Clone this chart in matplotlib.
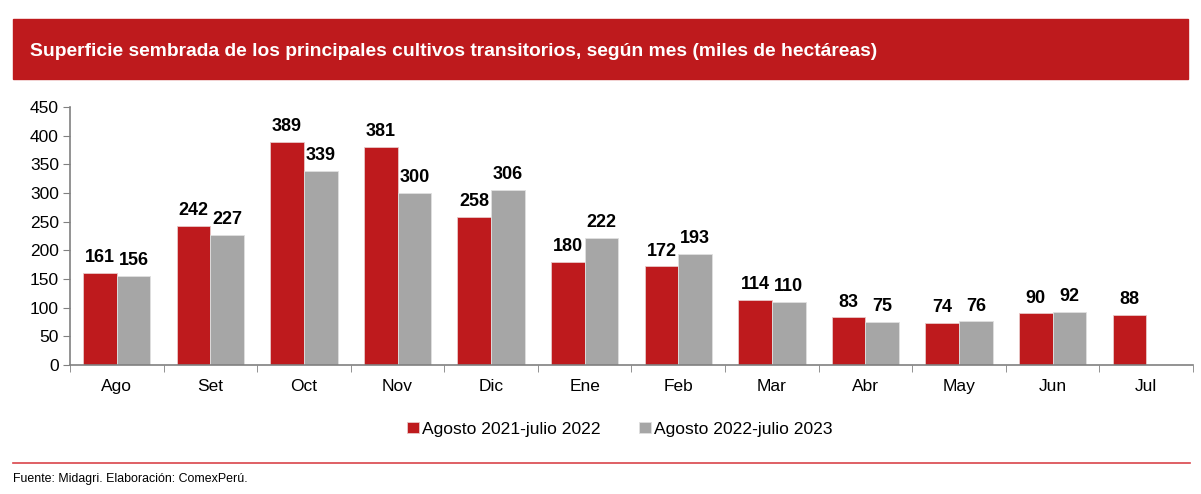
#!/usr/bin/env python3
"""
Superficie sembrada de los principales cultivos transitorios, por mes.
Barras agrupadas: campaña 2021-2022 vs 2022-2023. Salida: out.png
"""
import matplotlib.pyplot as plt
import numpy as np
from matplotlib.patches import Rectangle

meses = ["Ago", "Set", "Oct", "Nov", "Dic", "Ene", "Feb", "Mar", "Abr", "May", "Jun", "Jul"]
campana_2122 = [161, 242, 389, 381, 258, 180, 172, 114, 83, 74, 90, 88]
campana_2223 = [156, 227, 339, 300, 306, 222, 193, 110, 75, 76, 92, None]
series_labels = ["Agosto 2021-julio 2022", "Agosto 2022-julio 2023"]

ROJO = "#BE1A1D"
GRIS = "#A6A6A6"

plt.rcParams["font.family"] = ["Liberation Sans", "DejaVu Sans"]


def main():
    fig = plt.figure(figsize=(12.01, 4.94), dpi=100)
    W, H = 1201, 494

    # barra del titulo
    fig.patches.append(Rectangle((13 / W, 1 - 79 / H), (1188 - 13) / W, 60 / H,
                                 transform=fig.transFigure, color=ROJO, zorder=0))
    fig.text(30 / W, 1 - 51 / H,
             "Superficie sembrada de los principales cultivos transitorios, según mes (miles de hectáreas)",
             color="white", fontsize=13.9, fontweight="bold", va="center", ha="left")

    ax = fig.add_axes([70 / W, 1 - 365 / H, (1193 - 70) / W, (365 - 107) / H])
    x = np.arange(len(meses))
    bw = 0.36
    v1 = np.array(campana_2122, dtype=float)
    v2 = np.array([np.nan if v is None else v for v in campana_2223], dtype=float)

    ax.bar(x - bw / 2, v1, bw, color=ROJO, edgecolor="#E8C8C8", linewidth=0.6,
           label=series_labels[0])
    ax.bar(x + bw / 2, v2, bw, color=GRIS, edgecolor="#E0E0E0", linewidth=0.6,
           label=series_labels[1])

    for xi, v in zip(x, v1):
        ax.text(xi - bw / 2, v + 12, f"{v:.0f}", ha="center", va="bottom",
                fontsize=13, fontweight="bold")
    for xi, v in zip(x, v2):
        if not np.isnan(v):
            ax.text(xi + bw / 2, v + 12, f"{v:.0f}", ha="center", va="bottom",
                    fontsize=13, fontweight="bold")

    ax.set_xlim(-0.5, len(meses) - 0.5)
    ax.set_ylim(0, 450)
    ax.set_yticks(np.arange(0, 451, 50))
    ax.set_xticks(x)
    ax.set_xticklabels(meses)
    ax.set_xticks(np.arange(-0.5, len(meses), 1), minor=True)
    ax.tick_params(axis="x", which="major", length=0, pad=10, labelsize=12.5)
    ax.tick_params(axis="x", which="minor", length=5, color="#808080", direction="out")
    ax.tick_params(axis="y", length=5, color="#808080", labelsize=12.5, pad=3)
    for s in ["top", "right"]:
        ax.spines[s].set_visible(False)
    for s in ["left", "bottom"]:
        ax.spines[s].set_color("#808080")
        ax.spines[s].set_linewidth(1.2)

    ax.legend(loc="center", bbox_to_anchor=(620 / W, 1 - 429 / H),
              bbox_transform=fig.transFigure, ncol=2, frameon=False,
              fontsize=12.6, handlelength=0.65, handleheight=0.65,
              handletextpad=0.2, columnspacing=2.2)

    # linea del pie y fuente
    fig.add_artist(plt.Line2D([13 / W, 1190 / W], [1 - 463 / H, 1 - 463 / H],
                              transform=fig.transFigure, color="#D9444A", linewidth=1.2))
    fig.text(13 / W, 1 - 479 / H, "Fuente: Midagri. Elaboración: ComexPerú.",
             fontsize=8.9, va="center", ha="left")

    fig.savefig("out.png", dpi=100)


if __name__ == "__main__":
    main()
